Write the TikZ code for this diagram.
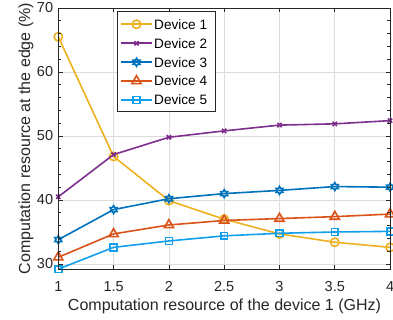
\documentclass[tikz,border=0pt]{standalone}
\usepackage{fontspec}
\setmainfont{Liberation Sans}
\usetikzlibrary{plotmarks}
\definecolor{cA}{HTML}{EDB120}
\definecolor{cB}{HTML}{7E2F8E}
\definecolor{cC}{HTML}{0072BD}
\definecolor{cD}{HTML}{D95319}
\definecolor{cE}{HTML}{12A0EC}
\definecolor{axc}{HTML}{262626}
\definecolor{gridc}{HTML}{DCDCDC}
\pgfdeclareplotmark{hexagram}{%
  \pgfpathmoveto{\pgfpointpolar{90}{\pgfplotmarksize}}%
  \pgfpathlineto{\pgfpointpolar{120}{0.577\pgfplotmarksize}}%
  \pgfpathlineto{\pgfpointpolar{150}{\pgfplotmarksize}}%
  \pgfpathlineto{\pgfpointpolar{180}{0.577\pgfplotmarksize}}%
  \pgfpathlineto{\pgfpointpolar{210}{\pgfplotmarksize}}%
  \pgfpathlineto{\pgfpointpolar{240}{0.577\pgfplotmarksize}}%
  \pgfpathlineto{\pgfpointpolar{270}{\pgfplotmarksize}}%
  \pgfpathlineto{\pgfpointpolar{300}{0.577\pgfplotmarksize}}%
  \pgfpathlineto{\pgfpointpolar{330}{\pgfplotmarksize}}%
  \pgfpathlineto{\pgfpointpolar{0}{0.577\pgfplotmarksize}}%
  \pgfpathlineto{\pgfpointpolar{30}{\pgfplotmarksize}}%
  \pgfpathlineto{\pgfpointpolar{60}{0.577\pgfplotmarksize}}%
  \pgfpathclose\pgfusepathqstroke}
\tikzset{
  devA/.style={cA, line width=1.6pt, mark=o, mark size=4.2pt},
  devB/.style={cB, line width=1.6pt, mark=x, mark size=3pt},
  devC/.style={cC, line width=1.6pt, mark=hexagram, mark size=4pt},
  devD/.style={cD, line width=1.6pt, mark=triangle, mark size=5.3pt},
  devE/.style={cE, line width=1.6pt, mark=square, mark size=3.4pt},
  gridline/.style={gridc, line width=0.7pt},
  axisline/.style={axc, line width=0.7pt},
  ticklab/.style={axc, font=\fontsize{14.5}{16}\selectfont, inner sep=0pt},
  axlab/.style={axc, font=\fontsize{16}{18}\selectfont, inner sep=0pt},
  leglab/.style={black, font=\fontsize{13.6}{15}\selectfont, inner sep=0pt, anchor=west},
}
\begin{document}
\begin{tikzpicture}[x=1pt,y=1pt]
\useasboundingbox (0,0) rectangle (393,320);
\begin{scope}[x=110.6pt, y=6.4pt, shift={(-52.3pt,-136pt)}]
  % grid
  \foreach \xx in {1.5,2,...,3.5} \draw[gridline] (\xx,29.2) -- (\xx,70);
  \foreach \yy in {30,40,50,60} \draw[gridline] (1,\yy) -- (4,\yy);
  % data
  \draw[devA] plot coordinates {(1,65.5)(1.5,46.8)(2,39.9)(2.5,37.0)(3,34.7)(3.5,33.4)(4,32.6)};
  \draw[devB] plot coordinates {(1,40.5)(1.5,47.1)(2,49.8)(2.5,50.8)(3,51.7)(3.5,51.9)(4,52.4)};
  \draw[devC] plot coordinates {(1,33.8)(1.5,38.5)(2,40.2)(2.5,41.0)(3,41.5)(3.5,42.1)(4,42.0)};
  \draw[devD] plot coordinates {(1,31.05)(1.5,34.7)(2,36.1)(2.5,36.8)(3,37.1)(3.5,37.4)(4,37.8)};
  \draw[devE] plot coordinates {(1,29.2)(1.5,32.6)(2,33.6)(2.5,34.4)(3,34.8)(3.5,35.0)(4,35.1)};
  % axes box
  \draw[axisline] (1,29.2) rectangle (4,70);
  % x ticks
  \foreach \xx in {1.5,2,...,3.5} {
    \draw[axisline] (\xx,29.2) -- ++(0pt,4.5pt);
    \draw[axisline] (\xx,70) -- ++(0pt,-4.5pt);
  }
  % y ticks
  \foreach \yy in {30,40,...,60} {
    \draw[axisline] (1,\yy) -- ++(4.5pt,0pt);
    \draw[axisline] (4,\yy) -- ++(-4.5pt,0pt);
  }
  \foreach \yy in {30,32,...,70} {
    \draw[axisline] (1,\yy) -- ++(2.7pt,0pt);
    \draw[axisline] (4,\yy) -- ++(-2.7pt,0pt);
  }
  % x tick labels
  \foreach \xx/\lab [count=\i] in {1/1,1.5/1.5,2/2,2.5/2.5,3/3,3.5/3.5,4/4}
    \node[ticklab, yshift=-17pt] (xt\i) at (\xx,29.2) {\lab};
  % y tick labels
  \foreach \yy [count=\i] in {30,40,50,60,70}
    \node[ticklab, anchor=east, xshift=-5pt] (yt\i) at (1,\yy) {\yy};
\end{scope}
% axis labels
\node[axlab] (xlab) at (224.5,14) {Computation resource of the device 1 (GHz)};
\node[axlab, rotate=90] (ylab) at (26,181.5) {Computation resource at the edge (\%)};
% legend
\draw[axisline, fill=white] (117,209) rectangle (215,309);
\foreach \st/\yy in {devA/295.7, devB/276.7, devC/257.7, devD/239, devE/220} {
  \draw[\st] (121,\yy) -- (152,\yy);
  \draw[\st] plot coordinates {(136.5,\yy)};
}
\node[leglab] (l1) at (154,295.7) {Device 1};
\node[leglab] (l2) at (154,276.7) {Device 2};
\node[leglab] (l3) at (154,257.7) {Device 3};
\node[leglab] (l4) at (154,239) {Device 4};
\node[leglab] (l5) at (154,220) {Device 5};
\end{tikzpicture}
\end{document}
